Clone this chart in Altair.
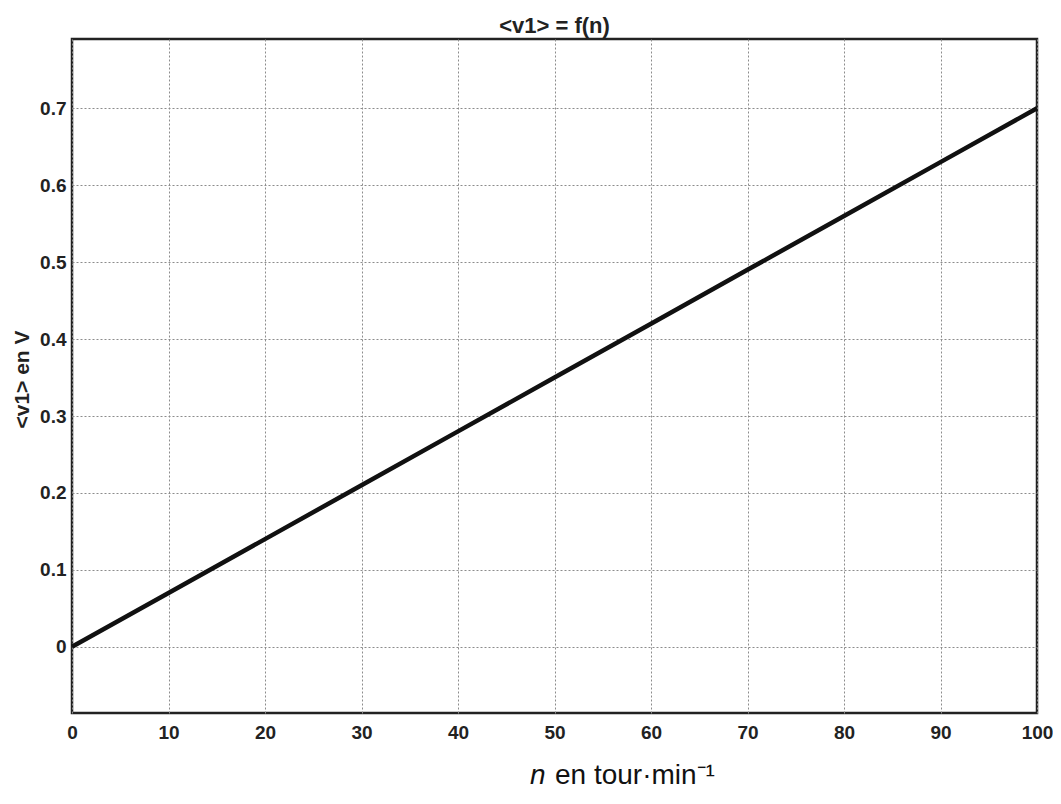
import altair as alt
import pandas as pd

# ---- data ----
n_vals = [0, 10, 20, 30, 40, 50, 60, 70, 80, 90, 100]
v_vals = [0.0, 0.07, 0.14, 0.21, 0.28, 0.35, 0.42, 0.49, 0.56, 0.63, 0.70]
x_ticks = [0, 10, 20, 30, 40, 50, 60, 70, 80, 90, 100]
y_ticks = [0, 0.1, 0.2, 0.3, 0.4, 0.5, 0.6, 0.7]
chart_title = ["<v1> = f(n)"]
y_title = "<v1> en V"
x_title_var = ["n"]
x_title_rest = ["en tour·min⁻¹"]

df = pd.DataFrame({"n": n_vals, "v": v_vals})

FONT = "Liberation Sans"
TXT = "#222222"
W, H = 965, 674

x_enc = alt.X(
    "n:Q",
    scale=alt.Scale(domain=[0, 100], nice=False, zero=False),
    axis=alt.Axis(
        values=x_ticks, title=None, grid=True, domain=False, ticks=False,
        gridColor="#8c8c8c", gridDash=[2, 2], gridWidth=1,
        labelFont=FONT, labelFontSize=19, labelFontWeight="bold",
        labelColor=TXT, labelPadding=10, labelFlush=False,
    ),
)
y_enc = alt.Y(
    "v:Q",
    scale=alt.Scale(domain=[-0.086, 0.79], nice=False, zero=False),
    axis=alt.Axis(
        values=y_ticks, format=".1~f", title=y_title, grid=True, domain=False,
        ticks=False, gridColor="#8c8c8c", gridDash=[2, 2], gridWidth=1,
        labelFont=FONT, labelFontSize=19, labelFontWeight="bold",
        labelColor=TXT, labelPadding=6, labelFlush=False,
        titleFont=FONT, titleFontSize=21, titleFontWeight="bold",
        titleColor=TXT, titleAngle=270, titleX=-50, titleY=340,
        titleAlign="center", titleBaseline="middle",
    ),
)

line = alt.Chart(df).mark_line(color="#111111", strokeWidth=4.5).encode(
    x=x_enc, y=y_enc
)

t_title = alt.Chart(pd.DataFrame({"t": chart_title})).mark_text(
    font=FONT, fontSize=22, fontWeight="bold", align="center",
    baseline="alphabetic", color=TXT,
).encode(x=alt.value(W / 2), y=alt.value(-6), text="t:N")

t_var = alt.Chart(pd.DataFrame({"t": x_title_var})).mark_text(
    font=FONT, fontSize=28, fontStyle="italic", align="left",
    baseline="alphabetic", color="#111111",
).encode(x=alt.value(458), y=alt.value(745), text="t:N")

t_rest = alt.Chart(pd.DataFrame({"t": x_title_rest})).mark_text(
    font=FONT, fontSize=28, align="left", baseline="alphabetic",
    color="#111111",
).encode(x=alt.value(483), y=alt.value(745), text="t:N")

chart = alt.layer(line, t_title, t_var, t_rest).properties(
    width=W,
    height=H,
    autosize=alt.AutoSizeParams(type="none"),
    padding={"left": 64, "top": 31, "right": 16, "bottom": 78},
).configure_view(stroke="#222222", strokeWidth=2.5)

chart.save("out.html", embed_options={"renderer": "svg", "actions": False})
